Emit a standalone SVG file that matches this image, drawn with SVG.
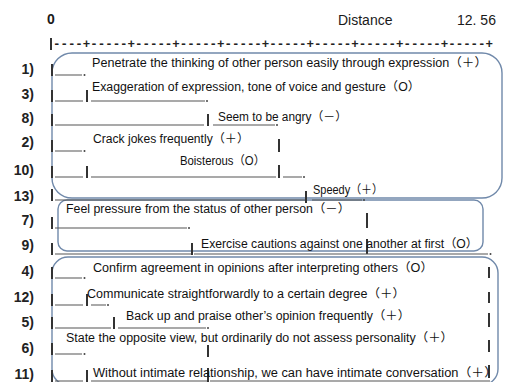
<svg xmlns="http://www.w3.org/2000/svg" width="507" height="382" viewBox="0 0 507 382">
<style>
.hd{font-family:"Liberation Sans",Arial,sans-serif;font-size:14px;fill:#1a1a1a}
.lb{font-family:"Liberation Sans",Arial,sans-serif;font-size:14px;font-weight:bold;fill:#222;text-anchor:end}
.tx{font-family:"Liberation Sans","Noto Sans CJK SC",sans-serif;font-size:12px;fill:#111}
.ru{font-family:"Liberation Mono",monospace;font-size:12px;fill:#222;font-weight:bold}
.us{stroke:#555;stroke-width:1.1;fill:none}
.bar{stroke:#333;stroke-width:2;fill:none}
.dot{fill:#444}
.box{fill:none;stroke:#7089aa;stroke-width:1.4}
</style>
<rect width="507" height="382" fill="#fff"/>
<g id="header">
<text class="hd" x="47" y="24" font-weight="bold">0</text>
<text class="hd" x="338" y="25">Distance</text>
<text class="hd" x="457" y="25">12. 56</text>
<path class="bar" d="M51 38V50"/>
<text class="ru" x="53" y="48" textLength="440" lengthAdjust="spacingAndGlyphs">----+-----+-----+-----+-----+-----+-----+-----+-----+-----+</text>
</g>
<g id="labels">
<text class="lb" x="34" y="74">1)</text>
<text class="lb" x="34" y="99">3)</text>
<text class="lb" x="34" y="123">8)</text>
<text class="lb" x="34" y="147">2)</text>
<text class="lb" x="34" y="175">10)</text>
<text class="lb" x="34" y="201">13)</text>
<text class="lb" x="34" y="225">7)</text>
<text class="lb" x="34" y="250">9)</text>
<text class="lb" x="34" y="276">4)</text>
<text class="lb" x="34" y="302">12)</text>
<text class="lb" x="34" y="327">5)</text>
<text class="lb" x="34" y="353">6)</text>
<text class="lb" x="34" y="379">11)</text>
</g>
<g id="groups">
<rect id="cluster1" class="box" x="52" y="53" width="450" height="145" rx="20"/>
<rect id="cluster2" class="box" x="58" y="200" width="425" height="51" rx="9"/>
<rect id="cluster3" class="box" x="52" y="257" width="446" height="128" rx="16"/>
</g>
<g id="connectors">
<path class="bar" d="M52 64V76M52 90V102M52 114V126M52 140V152M52 166V178M52 189V201M52 217V229M52 243V255M52 267V279M52 294V306M52 317V329M52 343V355M52 370V382"/>
<path class="bar" d="M87 90V102M208 114V126M279 139V152M87 166V178M279 165V178M306 191V203M367 213V228M192 243V255M367 239V254M489 267V278M87 294V306M489 292V303M114 317V329M489 313V327M208 345V357M489 340V352M87 370V382M208 368V382M489 365V378"/>
<path class="us" d="M55 75H82M55 101H83M91 101H205M55 125H204M213 125H275M55 151H82M55 177H83M91 177H276M283 177H302M55 200H305M312 200H362M55 228H187M55 254H191M194 254H488M55 278H82M55 305H83M91 305H106M55 328H111M118 328H206M55 354H82M55 381H83M91 381H207M210 381H490"/>
<g class="dot">
<circle cx="84.5" cy="75" r="1"/><circle cx="207" cy="101" r="1"/><circle cx="277" cy="125" r="1"/><circle cx="84.5" cy="151" r="1"/><circle cx="304" cy="177" r="1"/><circle cx="364" cy="200" r="1"/><circle cx="189" cy="228" r="1"/><circle cx="490.5" cy="254" r="1"/><circle cx="84.5" cy="278" r="1"/><circle cx="108" cy="305" r="1"/><circle cx="208" cy="328" r="1"/><circle cx="84.5" cy="354" r="1"/>
</g>
</g>
<g id="n1"><text class="tx" x="92" y="67" textLength="395" lengthAdjust="spacingAndGlyphs">Penetrate the thinking of other person easily through expression（＋）</text></g>
<g id="n3"><text class="tx" x="92" y="91" textLength="328" lengthAdjust="spacingAndGlyphs">Exaggeration of expression, tone of voice and gesture（O）</text></g>
<g id="n8"><text class="tx" x="218" y="121" textLength="129" lengthAdjust="spacingAndGlyphs">Seem to be angry（－）</text></g>
<g id="n2"><text class="tx" x="93" y="143" textLength="156" lengthAdjust="spacingAndGlyphs">Crack jokes frequently（＋）</text></g>
<g id="n10"><text class="tx" x="180" y="165" textLength="85" lengthAdjust="spacingAndGlyphs">Boisterous（O）</text></g>
<g id="n13"><text class="tx" x="313" y="194" textLength="70" lengthAdjust="spacingAndGlyphs">Speedy（＋）</text></g>
<g id="n7"><text class="tx" x="66" y="213" textLength="284" lengthAdjust="spacingAndGlyphs">Feel pressure from the status of other person（－）</text></g>
<g id="n9"><text class="tx" x="201" y="248" textLength="277" lengthAdjust="spacingAndGlyphs">Exercise cautions against one another at first（O）</text></g>
<g id="n4"><text class="tx" x="93" y="272" textLength="340" lengthAdjust="spacingAndGlyphs">Confirm agreement in opinions after interpreting others（O）</text></g>
<g id="n12"><text class="tx" x="87" y="298" textLength="318" lengthAdjust="spacingAndGlyphs">Communicate straightforwardly to a certain degree（＋）</text></g>
<g id="n5"><text class="tx" x="126" y="320" textLength="284" lengthAdjust="spacingAndGlyphs">Back up and praise other’s opinion frequently（＋）</text></g>
<g id="n6"><text class="tx" x="66" y="342" textLength="387" lengthAdjust="spacingAndGlyphs">State the opposite view, but ordinarily do not assess personality（＋）</text></g>
<g id="n11"><text class="tx" x="93" y="377" textLength="404" lengthAdjust="spacingAndGlyphs">Without intimate relationship, we can have intimate conversation（＋）</text></g>
</svg>
